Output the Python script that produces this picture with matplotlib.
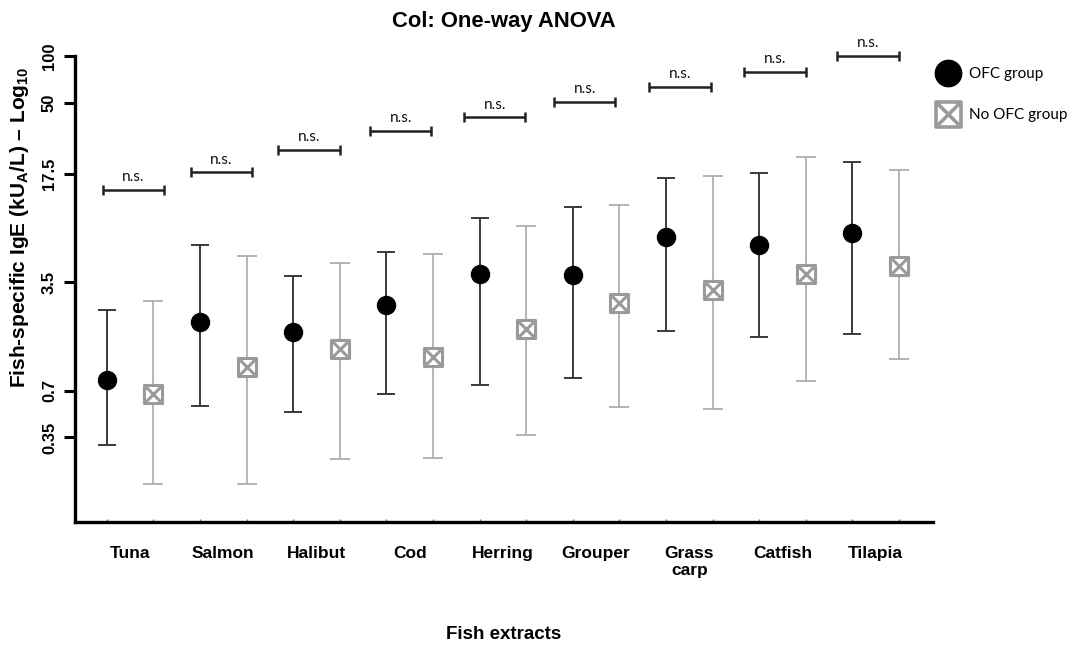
import matplotlib
matplotlib.use("Agg")
import matplotlib.pyplot as plt
from matplotlib.path import Path
from matplotlib.lines import Line2D
import numpy as np

# ---------------- data ----------------
fish = ["Tuna", "Salmon", "Halibut", "Cod", "Herring", "Grouper", "Grass\ncarp", "Catfish", "Tilapia"]

ofc_mid   = [0.82, 1.95, 1.66, 2.51, 3.94, 3.89, 6.86, 6.03, 7.27]
ofc_high  = [2.33, 6.03, 3.85, 5.47, 9.04, 10.7, 16.3, 17.6, 20.7]
ofc_low   = [0.315, 0.559, 0.51, 0.67, 0.762, 0.84, 1.70, 1.55, 1.63]

noofc_mid  = [0.67, 1.00, 1.30, 1.16, 1.75, 2.57, 3.10, 3.96, 4.48]
noofc_high = [2.63, 5.17, 4.67, 5.33, 8.1, 10.96, 16.9, 22.5, 18.4]
noofc_low  = [0.176, 0.176, 0.255, 0.26, 0.364, 0.55, 0.537, 0.81, 1.12]

# comparison bars (start / end along the category axis, height)
sig_x0 = [-0.29, 0.651, 1.588, 2.575, 3.584, 4.549, 5.572, 6.591, 7.589]
sig_x1 = [0.365, 1.312, 2.253, 3.233, 4.241, 5.207, 6.231, 7.250, 8.251]
sig_y = [13.8, 17.9, 24.9, 33.0, 40.3, 50.6, 63.5, 79.3, 100.0]
sig_text = ["n.s."] * 9

ytick_vals = [0.35, 0.7, 3.5, 17.5, 50, 100]
ytick_labels = ["0.35", "0.7", "3.5", "17.5", "50", "100"]

# ---------------- fonts ----------------
plt.rcParams["font.family"] = ["Liberation Sans", "DejaVu Sans"]
plt.rcParams["mathtext.fontset"] = "custom"
plt.rcParams["mathtext.rm"] = "Liberation Sans"
plt.rcParams["mathtext.bf"] = "Liberation Sans:bold"
plt.rcParams["mathtext.it"] = "Liberation Sans:italic"

# ---------------- figure ----------------
fig = plt.figure(figsize=(10.72, 6.45), dpi=100)
ax = fig.add_axes([75 / 1072, 1 - 522 / 645, (933 - 75) / 1072, (522 - 56) / 645])

x = np.arange(len(fish))
off = 0.25
xb = x - off
xg = x + off

# custom square-with-X marker
verts = [(-1, -1), (1, -1), (1, 1), (-1, 1), (-1, -1),
         (-1, -1), (1, 1), (-1, 1), (1, -1)]
codes = [Path.MOVETO, Path.LINETO, Path.LINETO, Path.LINETO, Path.CLOSEPOLY,
         Path.MOVETO, Path.LINETO, Path.MOVETO, Path.LINETO]
boxx = Path(verts, codes)

ofc_mid_a = np.array(ofc_mid)
nof_mid_a = np.array(noofc_mid)
yerr_b = [ofc_mid_a - np.array(ofc_low), np.array(ofc_high) - ofc_mid_a]
yerr_g = [nof_mid_a - np.array(noofc_low), np.array(noofc_high) - nof_mid_a]

ax.errorbar(xb, ofc_mid, yerr=yerr_b, fmt="none", ecolor="#3a3a3a",
            elinewidth=1.4, capsize=6.8, capthick=1.4, zorder=2)
ax.errorbar(xg, noofc_mid, yerr=yerr_g, fmt="none", ecolor="#a8a8a8",
            elinewidth=1.2, capsize=7.0, capthick=1.2, zorder=2)
ax.plot(xb, ofc_mid, linestyle="none", marker="o", markersize=13,
        color="black", zorder=3)
ax.plot(xg, noofc_mid, linestyle="none", marker=boxx, markersize=13,
        markerfacecolor="white", markeredgecolor="#9a9a9a",
        markeredgewidth=2.2, zorder=3)

# significance bars
for i in range(len(fish)):
    x0, x1 = sig_x0[i], sig_x1[i]
    ax.plot([x0, x1], [sig_y[i], sig_y[i]], color="#222222", lw=1.8,
            clip_on=False, solid_capstyle="butt")
    ax.plot([x0, x1], [sig_y[i], sig_y[i]], linestyle="none", marker="|",
            markersize=7, markeredgewidth=1.8, color="#222222", clip_on=False)
    ax.annotate(sig_text[i], xy=((x0 + x1) / 2, sig_y[i]), xytext=(0, 4),
                textcoords="offset points", ha="center", va="bottom",
                fontsize=11, family=["Lato", "DejaVu Sans"], color="#111111",
                annotation_clip=False)

# axes styling
ax.set_yscale("log")
ax.set_ylim(0.1, 100)
ax.set_xlim(-0.59, 8.615)
ax.set_yticks(ytick_vals)
ax.set_yticklabels(ytick_labels, rotation=90, va="center",
                   fontsize=12, fontweight="bold")
ax.yaxis.set_minor_locator(matplotlib.ticker.NullLocator())
ax.tick_params(axis="y", length=8, width=2.2, pad=5, direction="out")

ax.set_xticks(x)
ax.set_xticklabels(fish, fontsize=12.5, fontweight="bold", linespacing=1.2)
ax.tick_params(axis="x", length=0, pad=17)
ax.set_xticks(np.concatenate([xb, xg]), minor=True)
ax.tick_params(axis="x", which="minor", length=2, width=1, color="#777777",
               direction="in")

for s in ("top", "right"):
    ax.spines[s].set_visible(False)
for s in ("left", "bottom"):
    ax.spines[s].set_linewidth(2.4)

ax.set_title("Col: One-way ANOVA", fontsize=15.8, fontweight="bold", pad=21)
ax.set_xlabel("Fish extracts", fontsize=13.5, fontweight="bold")
ax.xaxis.set_label_coords(0.5, -0.223)
ax.xaxis.label.set_va("top")
ax.set_ylabel(r"Fish-specific IgE (kU$_{\mathbf{A}}$/L) – Log$_{\mathbf{10}}$",
              fontsize=15, fontweight="bold")
ax.yaxis.set_label_coords(-0.051, 0.633)

# legend
h1 = Line2D([], [], linestyle="none", marker="o", markersize=19, color="black")
h2 = Line2D([], [], linestyle="none", marker=boxx, markersize=18,
            markerfacecolor="white", markeredgecolor="#9a9a9a", markeredgewidth=2.6)
fig.legend([h1, h2], ["OFC group", "No OFC group"], loc="upper left",
           bbox_to_anchor=(937 / 1072, 1 - 67 / 645), frameon=False,
           prop={"family": ["Lato", "DejaVu Sans"], "size": 11},
           handlelength=1.5, handletextpad=0.6, labelspacing=1.8,
           borderpad=0, borderaxespad=0)

fig.savefig("out.png", dpi=100)
